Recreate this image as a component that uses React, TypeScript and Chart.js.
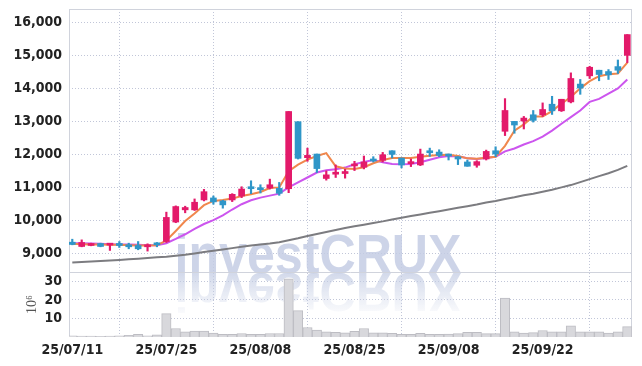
import { useEffect, useRef } from 'react';
import { Chart, registerables } from 'chart.js';
Chart.register(...registerables);

const dates = [
  '25/07/11', '25/07/14', '25/07/15', '25/07/16', '25/07/17', '25/07/18',
  '25/07/21', '25/07/22', '25/07/23', '25/07/24', '25/07/25',
  '25/07/28', '25/07/29', '25/07/30', '25/07/31', '25/08/01',
  '25/08/04', '25/08/05', '25/08/06', '25/08/07', '25/08/08',
  '25/08/11', '25/08/12', '25/08/13', '25/08/14',
  '25/08/18', '25/08/19', '25/08/20', '25/08/21', '25/08/22',
  '25/08/25', '25/08/26', '25/08/27', '25/08/28', '25/08/29',
  '25/09/01', '25/09/02', '25/09/03', '25/09/04', '25/09/05',
  '25/09/08', '25/09/09', '25/09/10', '25/09/11', '25/09/12',
  '25/09/15', '25/09/16', '25/09/17', '25/09/18', '25/09/19',
  '25/09/22', '25/09/23', '25/09/24', '25/09/25', '25/09/26',
  '25/09/29', '25/09/30', '25/10/01', '25/10/02', '25/10/10',
];
const xTickIndexes = [0, 10, 20, 30, 40, 50];
const priceTicks = [9000, 10000, 11000, 12000, 13000, 14000, 15000, 16000];
const volumeTicks = [10, 20, 30];

const opens = [
  9330, 9200, 9230, 9290, 9240, 9270, 9250, 9230, 9190, 9270,
  9350, 9940, 10310, 10310, 10610, 10670, 10580, 10610, 10730, 10990,
  10980, 10970, 10960, 10950, 12980, 11890, 12000, 11260, 11390, 11410,
  11640, 11600, 11850, 11810, 12100, 11880, 11710, 11670, 12100, 12060,
  11990, 11920, 11760, 11660, 11850, 12100, 12690, 12990, 13000, 13190,
  13190, 13510, 13310, 13580, 14120, 14370, 14540, 14500, 14650, 14990,
];
const highs = [
  9420, 9400, 9300, 9300, 9280, 9350, 9300, 9350, 9280, 9320,
  10240, 10430, 10420, 10640, 10930, 10730, 10600, 10800, 11010, 11190,
  11070, 11240, 11140, 13290, 12980, 12180, 12000, 11490, 11670, 11540,
  11780, 11940, 11920, 12050, 12100, 11880, 11850, 12150, 12180, 12130,
  12000, 11920, 11820, 11800, 12120, 12220, 13680, 12990, 13140, 13320,
  13550, 13750, 13660, 14460, 14260, 14660, 14540, 14560, 14850, 15620,
];
const lows = [
  9250, 9190, 9220, 9190, 9080, 9170, 9130, 9100, 9060, 9190,
  9320, 9920, 10220, 10290, 10580, 10480, 10360, 10560, 10680, 10800,
  10820, 10940, 10750, 10830, 11850, 11780, 11440, 11210, 11290, 11270,
  11500, 11550, 11760, 11760, 11880, 11580, 11620, 11650, 11930, 11920,
  11820, 11680, 11630, 11600, 11820, 11920, 12560, 12630, 12760, 12970,
  13140, 13200, 13290, 13550, 13810, 14290, 14220, 14260, 14440, 14770,
];
const closes = [
  9260, 9320, 9290, 9200, 9270, 9230, 9190, 9130, 9250, 9250,
  10080, 10410, 10380, 10540, 10860, 10550, 10460, 10780, 10940, 10950,
  10920, 11070, 10810, 13290, 11870, 11960, 11560, 11370, 11450, 11440,
  11690, 11760, 11790, 11980, 11990, 11670, 11740, 12000, 12040, 11960,
  11940, 11850, 11630, 11770, 12080, 12000, 13320, 12880, 13090, 13020,
  13350, 13310, 13660, 14290, 14000, 14630, 14410, 14400, 14540, 15620,
];

const ma5 = [
  9280, 9270, 9260, 9260, 9250, 9250, 9240, 9230, 9230, 9240,
  9380, 9670, 9970, 10200, 10450, 10580, 10610, 10650, 10730, 10780,
  10850, 10970, 10990, 11480, 11680, 11830, 11940, 12030, 11630, 11560,
  11550, 11600, 11720, 11820, 11880, 11880, 11880, 11920, 11950, 11970,
  11980, 11940, 11870, 11860, 11890, 11920, 12250, 12710, 12900, 13140,
  13140, 13300, 13530, 13730, 13990, 14210, 14360, 14420, 14440, 14770,
];
const ma20 = [
  9300, 9300, 9290, 9280, 9270, 9260, 9260, 9250, 9240, 9240,
  9300, 9430, 9570, 9730, 9880, 10000, 10140, 10320, 10480, 10600,
  10680, 10740, 10800, 10990, 11140, 11290, 11440, 11510, 11540, 11590,
  11690, 11760, 11820, 11750, 11700, 11690, 11700, 11750, 11830, 11900,
  11940, 11930, 11870, 11850, 11880, 11920, 12080, 12170, 12290, 12390,
  12530, 12710, 12920, 13120, 13320, 13580, 13670, 13830, 13990, 14260,
];
const ma120 = [
  8715, 8730, 8745, 8760, 8775, 8790, 8810, 8830, 8850, 8870,
  8890, 8920, 8950, 8990, 9030, 9070, 9110, 9150, 9190, 9230,
  9260, 9290, 9330, 9390, 9450, 9520, 9580, 9640, 9700, 9760,
  9810, 9860, 9910, 9960, 10020, 10070, 10120, 10170, 10220, 10270,
  10320, 10370, 10420, 10470, 10530, 10580, 10640, 10690, 10750, 10800,
  10860, 10920, 10990, 11060, 11150, 11240, 11330, 11420, 11520, 11640,
];
const volumes = [
  0.6, 0.5, 0.5, 0.4, 0.5, 0.6, 0.9, 1.4, 0.6, 1.2,
  12.6, 4.6, 2.8, 3.2, 3.2, 2.1, 1.4, 1.4, 1.9, 1.4,
  1.4, 1.9, 1.9, 31.4, 14.2, 5.1, 3.7, 2.8, 2.5, 2.2,
  3.0, 4.6, 2.2, 2.2, 2.0, 1.4, 1.4, 2.0, 1.4, 1.4,
  1.6, 1.8, 2.5, 2.5, 1.8, 1.8, 21.0, 2.8, 2.1, 2.4,
  3.5, 2.8, 2.8, 6.0, 2.8, 2.8, 2.8, 2.1, 2.8, 5.6,
];

const UP = '#e31a6a';
const DOWN = '#2f96c8';
const TICK_FONT = "'Liberation Sans Narrow', 'DejaVu Sans Condensed', 'Roboto', sans-serif";
const GRID = 'rgba(178,184,206,0.8)';

const framePlugin = {
  id: 'frameAndMark',
  beforeDatasetsDraw(chart: any) {
    const { ctx, chartArea: a, scales } = chart;
    ctx.save();
    const text = 'investCRUX';
    const cx = a.left + 249;
    const by = scales.y.bottom + 1;
    ctx.font = "bold 56px 'Liberation Sans', Arial, sans-serif";
    ctx.textAlign = 'center';
    ctx.textBaseline = 'alphabetic';
    ctx.fillStyle = 'rgba(196,205,228,0.85)';
    ctx.fillText(text, cx, by, 287);
    ctx.save();
    ctx.beginPath();
    ctx.rect(a.left, by, a.right - a.left, 60);
    ctx.clip();
    ctx.translate(0, 2 * by);
    ctx.scale(1, -1);
    const g = ctx.createLinearGradient(0, by, 0, by - 45);
    g.addColorStop(0, 'rgba(196,205,228,0.75)');
    g.addColorStop(1, 'rgba(196,205,228,0)');
    ctx.fillStyle = g;
    ctx.fillText(text, cx, by, 287);
    ctx.restore();
    ctx.strokeStyle = '#d0d3dc';
    ctx.lineWidth = 1;
    ctx.strokeRect(Math.round(a.left) + 0.5, Math.round(a.top) + 0.5, Math.round(a.right - a.left) - 1, Math.round(a.bottom - a.top) - 1);
    const sy = Math.round(scales.y.bottom) + 0.5;
    ctx.beginPath();
    ctx.moveTo(a.left, sy);
    ctx.lineTo(a.right, sy);
    ctx.stroke();
    ctx.restore();
  },
};

const noPad = (s: any) => {
  s.paddingTop = 0;
  s.paddingBottom = 0;
  s.paddingLeft = 0;
  s.paddingRight = 0;
};

export default function App() {
  const ref = useRef<HTMLCanvasElement>(null);
  useEffect(() => {
    if (!ref.current) return;
    const idx = dates.map((_, i) => i);
    const colors = idx.map((i) => (closes[i] >= opens[i] ? UP : DOWN));
    const tickFont = { family: TICK_FONT, size: 14, weight: 'bold' as const };
    const chart = new Chart(ref.current, {
      type: 'bar',
      data: {
        datasets: [
          {
            type: 'bar',
            label: 'body',
            data: idx.map((i) => ({ x: i, y: [opens[i], closes[i]] })) as any,
            backgroundColor: colors,
            borderWidth: 0,
            barThickness: 6,
            minBarLength: 2,
            grouped: false,
            yAxisID: 'y',
            order: 0,
          },
          {
            type: 'bar',
            label: 'wick',
            data: idx.map((i) => ({ x: i, y: [lows[i], highs[i]] })) as any,
            backgroundColor: colors,
            borderWidth: 0,
            barThickness: 1.5,
            grouped: false,
            yAxisID: 'y',
            order: 1,
          },
          {
            type: 'line',
            label: 'MA5',
            data: idx.map((i) => ({ x: i, y: ma5[i] })),
            borderColor: '#f0874c',
            borderWidth: 2,
            pointRadius: 0,
            yAxisID: 'y',
            order: 2,
          },
          {
            type: 'line',
            label: 'MA20',
            data: idx.map((i) => ({ x: i, y: ma20[i] })),
            borderColor: '#cc55ee',
            borderWidth: 2,
            pointRadius: 0,
            yAxisID: 'y',
            order: 3,
          },
          {
            type: 'line',
            label: 'MA120',
            data: idx.map((i) => ({ x: i, y: ma120[i] })),
            borderColor: '#7c7c80',
            borderWidth: 2,
            pointRadius: 0,
            yAxisID: 'y',
            order: 4,
          },
          {
            type: 'bar',
            label: 'volume',
            data: idx.map((i) => ({ x: i, y: volumes[i] })),
            backgroundColor: '#d8d8dc',
            borderColor: '#bdbdc3',
            borderWidth: 1,
            barPercentage: 1,
            categoryPercentage: 1,
            grouped: false,
            yAxisID: 'yv',
            order: 5,
          },
        ],
      },
      options: {
        animation: false,
        responsive: false,
        layout: { padding: { top: 1, right: 2, left: 0, bottom: 0 } },
        plugins: { legend: { display: false }, tooltip: { enabled: false } },
        scales: {
          x: {
            type: 'linear',
            min: -0.35,
            max: 59.5,
            offset: false,
            grid: { color: GRID, drawTicks: false },
            border: { display: false, dash: [1, 2] },
            afterBuildTicks: (s: any) => {
              s.ticks = xTickIndexes.map((v) => ({ value: v }));
            },
            ticks: {
              autoSkip: false,
              maxRotation: 0,
              padding: 5,
              color: '#222',
              font: tickFont,
              callback: (v: any) => dates[v] ?? '',
            },
            afterFit: (s: any) => {
              s.height = 21;
              noPad(s);
            },
          },
          yv: {
            type: 'linear',
            position: 'left',
            stack: 'main',
            stackWeight: 1,
            min: 0,
            max: 35,
            grid: { color: GRID, drawTicks: false },
            border: { display: false, dash: [1, 2] },
            afterBuildTicks: (s: any) => {
              s.ticks = volumeTicks.map((v) => ({ value: v }));
            },
            ticks: {
              autoSkip: false,
              padding: 7,
              color: '#222',
              font: tickFont,
              callback: (v: any) => String(v),
            },
            title: {
              display: true,
              text: '10⁶',
              color: '#555',
              font: { family: "'Liberation Serif', serif", size: 14 },
              padding: { top: 16, bottom: 0 },
            },
            afterFit: (s: any) => {
              s.width = 61;
              noPad(s);
            },
          },
          y: {
            type: 'linear',
            position: 'left',
            stack: 'main',
            stackWeight: 4.05,
            min: 8425,
            max: 16395,
            grid: { color: GRID, drawTicks: false },
            border: { display: false, dash: [1, 2] },
            afterBuildTicks: (s: any) => {
              s.ticks = priceTicks.map((v) => ({ value: v }));
            },
            ticks: {
              autoSkip: false,
              padding: 7,
              color: '#222',
              font: tickFont,
              callback: (v: any) => Number(v).toLocaleString('en-US'),
            },
            afterFit: (s: any) => {
              s.width = 61;
              noPad(s);
            },
          },
        },
      },
      plugins: [framePlugin],
    });
    return () => chart.destroy();
  }, []);
  return <canvas ref={ref} width={626} height={350} style={{ display: 'block' }} />;
}
